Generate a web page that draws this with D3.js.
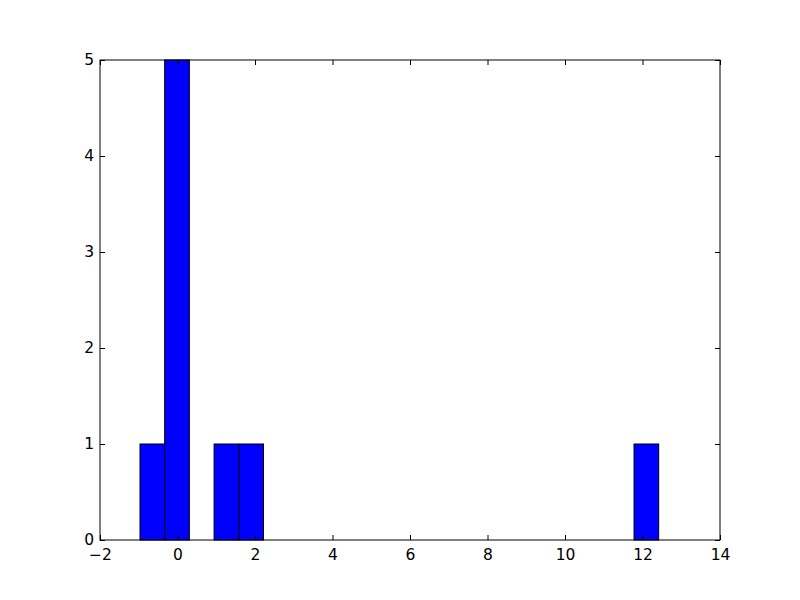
<!DOCTYPE html>
<html><head><meta charset="utf-8">
<script src="https://cdn.jsdelivr.net/npm/d3@7"></script>
<style>body{margin:0;background:#fff}svg{display:block}text{font-family:"DejaVu Sans",sans-serif}</style>
</head><body>
<script>
const binLefts = [-0.968, -0.331, 0.944, 1.582, 11.781];
const binWidth = 0.637;
const counts = [1, 5, 1, 1, 1];
const xTicks = [-2, 0, 2, 4, 6, 8, 10, 12, 14];
const yTicks = [0, 1, 2, 3, 4, 5];

const W = 800, H = 600;
const m = {left: 100, right: 720, top: 60, bottom: 540};
const svg = d3.select("body").append("svg").attr("width", W).attr("height", H);
const x = d3.scaleLinear().domain([-2, 14]).range([m.left, m.right]);
const y = d3.scaleLinear().domain([0, 5]).range([m.bottom, m.top]);

svg.append("g").selectAll("rect").data(binLefts).join("rect")
  .attr("x", d => x(d)).attr("width", d => x(d + binWidth) - x(d))
  .attr("y", (d, i) => y(counts[i])).attr("height", (d, i) => y(0) - y(counts[i]))
  .attr("fill", "#0000ff").attr("stroke", "#000").attr("stroke-width", 1);

const fs = "15.5px";
const tl = 5;
const axB = d3.axisBottom(x).tickValues(xTicks).tickSizeInner(-tl).tickSizeOuter(0).tickPadding(9)
  .tickFormat(d => d < 0 ? "\u2212" + Math.abs(d) : d);
const axT = d3.axisTop(x).tickValues(xTicks).tickSizeInner(-tl).tickSizeOuter(0).tickFormat("");
const axL = d3.axisLeft(y).tickValues(yTicks).tickSizeInner(-tl).tickSizeOuter(0).tickPadding(6).tickFormat(d3.format("d"));
const axR = d3.axisRight(y).tickValues(yTicks).tickSizeInner(-tl).tickSizeOuter(0).tickFormat("");

function style(g){ g.select(".domain").remove(); g.selectAll("text").attr("font-size", fs).attr("fill","#000").attr("font-family","DejaVu Sans"); g.selectAll("line").attr("stroke","#000"); }
svg.append("g").attr("transform", `translate(0,${m.bottom})`).call(axB).call(style);
svg.append("g").attr("transform", `translate(0,${m.top})`).call(axT).call(style);
svg.append("g").attr("transform", `translate(${m.left},0)`).call(axL).call(style);
svg.append("g").attr("transform", `translate(${m.right},0)`).call(axR).call(style);

svg.append("rect").attr("x", m.left).attr("y", m.top).attr("width", m.right - m.left).attr("height", m.bottom - m.top)
  .attr("fill", "none").attr("stroke", "#000").attr("stroke-width", 1);
</script>
</body></html>
